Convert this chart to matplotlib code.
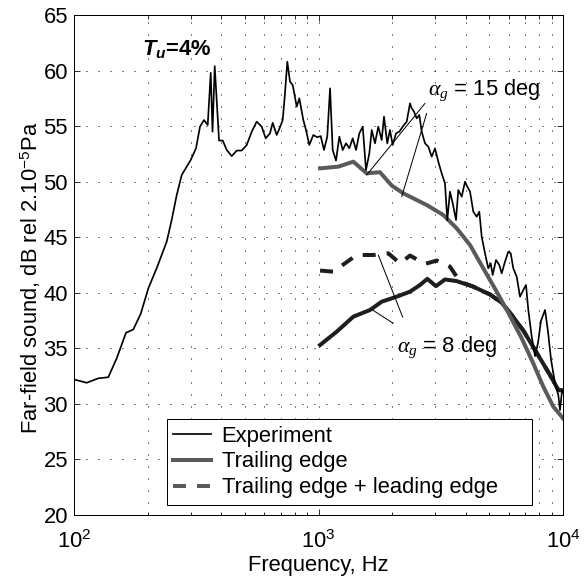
import matplotlib
matplotlib.use('Agg')
import matplotlib.pyplot as plt
from matplotlib.lines import Line2D
from matplotlib.ticker import LogLocator, LogFormatterMathtext, MultipleLocator, NullFormatter

plt.rcParams['font.family'] = 'Liberation Sans'
plt.rcParams['mathtext.fontset'] = 'custom'
plt.rcParams['mathtext.rm'] = 'Liberation Sans'
plt.rcParams['mathtext.it'] = 'Liberation Serif:italic'
plt.rcParams['mathtext.bf'] = 'Liberation Sans:bold'
plt.rcParams['mathtext.bfit'] = 'Liberation Sans:bold:italic'
plt.rcParams['lines.scale_dashes'] = False

# Measured far-field spectrum (Hz, dB)
exp_freq = [100, 112.7, 125.7, 138.1, 149.5, 163.2, 174.8, 187.4, 201.4, 219.1,
            239.4, 250.9, 263.1, 275.8, 300.1, 315.5, 327.6, 340.2, 352.3, 362.4,
            368.6, 376.3, 391.9, 405.8, 421.4, 441.7, 462.9, 485.2, 508.6, 533.2,
            558.8, 585.7, 608.2, 633.3, 649.6, 674.6, 695.9, 713.8, 729.4, 745.4,
            764.6, 784.3, 814.5, 834.7, 866.7, 889.0, 917.1, 952.2, 988.8, 1021,
            1053, 1086, 1115, 1143, 1179, 1217, 1256, 1296, 1337, 1380,
            1424, 1469, 1517, 1564, 1614, 1651, 1702, 1756, 1813, 1853,
            1911, 1960, 2011, 2075, 2140, 2210, 2295, 2367, 2405, 2458,
            2521, 2584, 2643, 2727, 2813, 2904, 2996, 3090, 3190, 3291,
            3363, 3450, 3539, 3651, 3731, 3853, 3975, 4062, 4166, 4297,
            4437, 4547, 4650, 4797, 4948, 5061, 5157, 5320, 5488, 5614,
            5791, 5975, 6111, 6262, 6466, 6671, 6881, 7058, 7213, 7447,
            7683, 7903, 8130, 8443, 8685, 8933, 9275, 9567, 9721, 9878, 10000]
exp_db = [32.2, 31.9, 32.3, 32.4, 34.1, 36.4, 36.7, 38.1, 40.4, 42.35,
          44.6, 46.55, 48.8, 50.6, 51.95, 53.0, 54.95, 55.55, 55.1, 59.8,
          54.5, 60.4, 53.7, 53.7, 52.85, 52.3, 52.8, 52.8, 53.3, 54.5,
          55.4, 54.95, 53.9, 54.35, 55.3, 54.2, 54.9, 55.55, 57.95, 60.8,
          59.0, 58.7, 56.75, 57.5, 55.55, 54.65, 53.3, 54.2, 54.0, 54.1,
          52.85, 54.05, 58.4, 52.85, 51.9, 54.05, 52.85, 53.45, 53.0, 53.9,
          52.85, 54.35, 54.95, 51.05, 52.55, 54.65, 53.45, 54.95, 53.75, 55.85,
          53.45, 54.65, 53.3, 54.35, 54.5, 54.95, 55.4, 57.05, 56.6, 56.3,
          55.7, 56.0, 54.5, 53.45, 53.15, 52.25, 53.0, 51.8, 50.75, 49.85,
          46.55, 49.1, 48.05, 46.55, 49.25, 48.65, 50.0, 49.55, 49.1, 47.3,
          46.85, 47.3, 45.05, 43.55, 42.2, 42.65, 41.6, 42.95, 42.5, 41.75,
          42.8, 43.7, 43.55, 42.2, 41.45, 39.65, 40.25, 40.7, 38.45, 36.05,
          34.3, 35.5, 37.5, 38.45, 36.5, 34.0, 31.85, 30.8, 29.45, 30.9, 31.2]

# Trailing-edge prediction, alpha_g = 15 deg
te15_freq = [1015, 1205, 1388, 1574, 1784, 1993, 2222, 2367, 2770, 3238,
             3675, 4165, 4721, 5356, 5975, 6780, 7558, 8307, 9127, 9879, 10000]
te15_db = [51.2, 51.35, 51.8, 50.75, 50.85, 49.65, 48.95, 48.65, 47.9, 47.0,
           45.8, 44.3, 42.2, 40.1, 38.2, 35.9, 33.65, 31.55, 29.75, 28.85, 28.7]

# Trailing-edge prediction, alpha_g = 8 deg
te8_freq = [1015, 1187, 1388, 1624, 1814, 2089, 2367, 2601, 2786, 3024, 3291,
            3675, 4297, 5028, 5614, 6170, 6881, 7806, 8848, 9568, 10000]
te8_db = [35.3, 36.5, 37.85, 38.45, 39.2, 39.65, 40.1, 40.7, 41.25, 40.6, 41.2,
          41.05, 40.55, 39.85, 39.1, 38.0, 36.6, 34.6, 32.6, 31.25, 31.2]

# Trailing edge + leading edge, alpha_g = 8 deg
tele_freq = [1015, 1150, 1283, 1433, 1676, 1930, 2154, 2367, 2727, 3044, 3450,
             3791, 4297, 5028, 5614, 6170, 6881, 7806, 8848, 9568, 10000]
tele_db = [42.0, 41.9, 42.65, 43.4, 43.4, 43.55, 42.65, 43.35, 42.6, 42.9, 42.35,
           41.0, 40.55, 39.85, 39.1, 38.0, 36.6, 34.6, 32.6, 31.25, 31.2]

fig = plt.figure(figsize=(587 / 72, 578 / 72), dpi=72)
ax = fig.add_axes([74 / 587, 63 / 578, 489 / 587, 500 / 578])

gray = '#5a5a5a'
dark = '#1e1e1e'
dash = (0, (13, 11))

ax.plot(tele_freq, tele_db, color=dark, lw=4, ls=dash, zorder=3)
ax.plot(te8_freq, te8_db, color=dark, lw=4, zorder=3)
ax.plot(te15_freq, te15_db, color=gray, lw=4, zorder=3)
ax.plot(exp_freq, exp_db, color='k', lw=1.7, zorder=4)

ax.set_xscale('log')
ax.set_xlim(100, 10000)
ax.set_ylim(20, 65)
ax.yaxis.set_major_locator(MultipleLocator(5))
ax.xaxis.set_major_locator(LogLocator(base=10))
ax.xaxis.set_minor_locator(LogLocator(base=10, subs=range(2, 10)))
ax.xaxis.set_major_formatter(LogFormatterMathtext())
ax.xaxis.set_minor_formatter(NullFormatter())

grid_style = dict(color='k', lw=1.0, ls=(0, (1, 11)))
ax.grid(True, which='both', axis='x', **grid_style)
ax.grid(True, which='major', axis='y', **grid_style)
ax.set_axisbelow(True)

ax.tick_params(which='both', direction='in', top=True, right=True, width=0.8)
ax.tick_params(which='major', length=6, labelsize=22)
ax.tick_params(which='minor', length=3.5)
ax.tick_params(axis='x', pad=15)
ax.tick_params(axis='y', pad=6)
for sp in ax.spines.values():
    sp.set_linewidth(1.0)

ax.set_xlabel('Frequency, Hz', fontsize=22, labelpad=2)
ax.set_ylabel('Far-field sound, dB rel 2.10$^{-5}$Pa', fontsize=22)
ax.yaxis.set_label_coords(-0.063, 0.475)

# Leader lines and labels
line_kw = dict(arrowstyle='-', lw=1.0, color='k', shrinkA=0, shrinkB=0)
ax.annotate('', xy=(1574, 50.6), xytext=(2727, 57.05), arrowprops=line_kw)
ax.annotate('', xy=(2189, 48.65), xytext=(2770, 56.15), arrowprops=line_kw)
ax.annotate('', xy=(1651, 38.5), xytext=(2023, 37.25), arrowprops=line_kw)
ax.annotate('', xy=(1756, 43.4), xytext=(2210, 37.8), arrowprops=line_kw)

ax.text(2805, 57.8, r'$\alpha_g$ = 15 deg', fontsize=22, va='baseline')
ax.text(2089, 34.7, r'$\alpha_g$ = 8 deg', fontsize=22, va='baseline')
ax.text(190, 61.4, r'$\mathbfit{T}_{\mathbfit{u}}$=4%', fontsize=22,
        fontweight='bold', va='baseline')

handles = [Line2D([], [], color='k', lw=1.7),
           Line2D([], [], color=gray, lw=4),
           Line2D([], [], color=gray, lw=4, ls=dash)]
labels = ['Experiment', 'Trailing edge', 'Trailing edge + leading edge']
leg = ax.legend(handles, labels, loc='upper left', mode='expand',
                bbox_to_anchor=(0.1896, 0.0, 0.748, 0.192),
                borderaxespad=0, fontsize=22, handlelength=1.7, handletextpad=0.5,
                borderpad=0.3, labelspacing=0.22, fancybox=False, framealpha=1,
                edgecolor='k')
leg.get_frame().set_linewidth(1.0)
leg.set_zorder(5)

fig.savefig('out.png', dpi=72, facecolor='white')
